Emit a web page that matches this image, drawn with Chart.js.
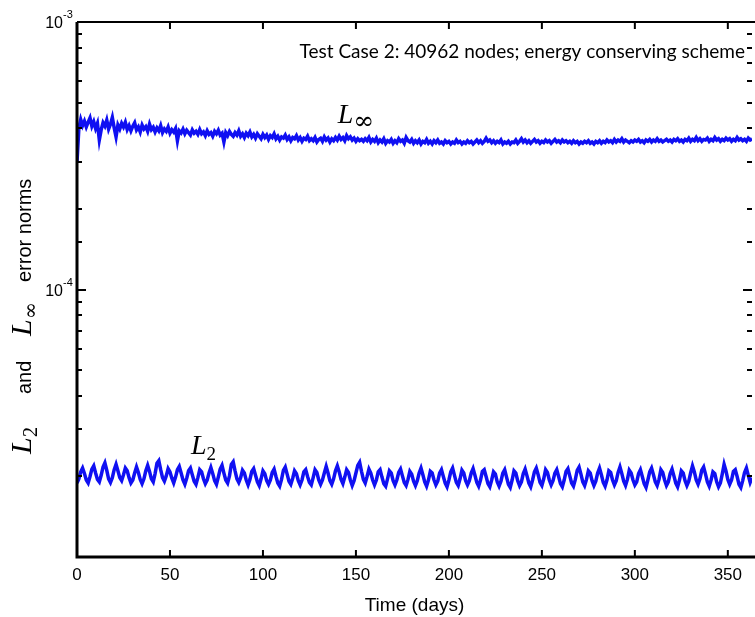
<!DOCTYPE html>
<html>
<head>
<meta charset="utf-8">
<script src="https://cdn.jsdelivr.net/npm/chart.js@4/dist/chart.umd.min.js"></script>
<style>
  html, body { margin: 0; padding: 0; background: #ffffff; }
  #wrap { width: 755px; height: 617px; }
</style>
</head>
<body>
<div id="wrap"><canvas id="errChart" width="755" height="617"></canvas></div>
<script>
// sampling days (one sample per day)
var days = Array.from({ length: 364 }, function (_, i) { return i; });

// L-infinity error norm, in units of 1e-4
var lInfScaled = [
  3.00, 4.00, 4.32, 4.10, 4.26, 4.05, 4.22, 4.38, 4.08, 4.24, 4.00, 4.18, 3.62, 3.95,
  4.20, 4.08, 4.30, 3.98, 4.15, 4.40, 4.02, 3.72, 4.12, 3.98, 4.18, 4.05, 4.22, 3.96,
  4.10, 3.92, 4.08, 4.20, 3.95, 4.05, 3.88, 4.12, 3.98, 4.06, 3.90, 4.15, 3.96, 4.04,
  3.88, 4.02, 3.92, 4.10, 3.86, 3.98, 3.90, 4.05, 3.84, 3.96, 3.88, 4.00, 3.60, 3.92,
  3.85, 3.98, 3.82, 3.94, 3.86, 3.78, 3.95, 3.84, 3.90, 3.80, 3.96, 3.82, 3.88, 3.76,
  3.92, 3.80, 3.86, 3.74, 3.90, 3.82, 3.94, 3.78, 3.84, 3.56, 3.86, 3.76, 3.90, 3.80,
  3.74, 3.86, 3.78, 3.92, 3.74, 3.82, 3.70, 3.84, 3.76, 3.88, 3.72, 3.80, 3.68, 3.82,
  3.74, 3.66, 3.80, 3.70, 3.78, 3.64, 3.76, 3.70, 3.82, 3.66, 3.74, 3.62, 3.72, 3.68,
  3.78, 3.64, 3.72, 3.60, 3.70, 3.66, 3.76, 3.62, 3.70, 3.58, 3.68, 3.64, 3.74, 3.60,
  3.66, 3.60, 3.70, 3.56, 3.64, 3.68, 3.58, 3.72, 3.62, 3.68, 3.56, 3.66, 3.60, 3.70,
  3.62, 3.74, 3.64, 3.70, 3.60, 3.76, 3.66, 3.72, 3.62, 3.68, 3.58, 3.66, 3.60, 3.64,
  3.58, 3.66, 3.60, 3.70, 3.56, 3.64, 3.58, 3.68, 3.54, 3.62, 3.56, 3.66, 3.52, 3.60,
  3.56, 3.64, 3.52, 3.60, 3.54, 3.66, 3.58, 3.62, 3.52, 3.70, 3.60, 3.56, 3.64, 3.52,
  3.60, 3.54, 3.62, 3.50, 3.58, 3.54, 3.64, 3.52, 3.58, 3.50, 3.60, 3.54, 3.62, 3.52,
  3.56, 3.50, 3.60, 3.54, 3.58, 3.50, 3.56, 3.52, 3.62, 3.54, 3.58, 3.50, 3.56, 3.52,
  3.60, 3.54, 3.58, 3.50, 3.56, 3.62, 3.54, 3.60, 3.52, 3.58, 3.68, 3.58, 3.62, 3.54,
  3.60, 3.52, 3.58, 3.54, 3.62, 3.50, 3.56, 3.52, 3.58, 3.50, 3.56, 3.54, 3.62, 3.52,
  3.58, 3.66, 3.56, 3.62, 3.54, 3.60, 3.52, 3.58, 3.64, 3.56, 3.60, 3.52, 3.58, 3.54,
  3.62, 3.56, 3.60, 3.52, 3.58, 3.64, 3.56, 3.60, 3.54, 3.62, 3.56, 3.60, 3.54, 3.58,
  3.52, 3.60, 3.54, 3.58, 3.50, 3.56, 3.52, 3.58, 3.54, 3.60, 3.52, 3.56, 3.50, 3.58,
  3.54, 3.60, 3.52, 3.58, 3.54, 3.62, 3.56, 3.60, 3.54, 3.64, 3.56, 3.62, 3.58, 3.66,
  3.56, 3.62, 3.58, 3.54, 3.60, 3.56, 3.62, 3.58, 3.64, 3.56, 3.60, 3.54, 3.62, 3.58,
  3.64, 3.56, 3.62, 3.58, 3.66, 3.58, 3.62, 3.56, 3.60, 3.64, 3.58, 3.62, 3.56, 3.64,
  3.60, 3.66, 3.58, 3.62, 3.56, 3.64, 3.60, 3.68, 3.58, 3.64, 3.60, 3.70, 3.60, 3.66,
  3.58, 3.64, 3.62, 3.68, 3.58, 3.64, 3.60, 3.70, 3.62, 3.66, 3.58, 3.64, 3.60, 3.68,
  3.62, 3.66, 3.58, 3.64, 3.60, 3.70, 3.62, 3.66, 3.60, 3.64, 3.58, 3.68, 3.62, 3.66
];

// L2 error norm, in units of 1e-5
var l2Scaled = [
  1.89, 1.96, 2.08, 2.15, 2.05, 1.94, 1.89, 2.00, 2.13, 2.19, 2.06, 1.95, 1.91, 2.02,
  2.17, 2.25, 2.11, 1.96, 1.90, 1.98, 2.12, 2.22, 2.10, 1.98, 1.93, 2.03, 2.15, 2.10,
  1.98, 1.89, 1.94, 2.06, 2.17, 2.07, 1.95, 1.88, 1.96, 2.10, 2.20, 2.09, 1.96, 1.91,
  2.05, 2.24, 2.29, 2.12, 1.98, 1.92, 2.01, 2.14, 2.08, 1.97, 1.89, 1.99, 2.12, 2.18,
  2.06, 1.94, 1.87, 1.97, 2.10, 2.15, 2.03, 1.92, 1.87, 1.98, 2.12, 2.08, 1.96, 1.88,
  1.94, 2.06, 2.16, 2.05, 1.93, 1.87, 1.99, 2.13, 2.20, 2.06, 1.94, 1.89, 2.01, 2.22,
  2.27, 2.10, 1.96, 1.90, 1.98, 2.11, 2.06, 1.94, 1.86, 1.95, 2.09, 2.14, 2.02, 1.91,
  1.85, 1.96, 2.10, 2.05, 1.93, 1.87, 1.94, 2.07, 2.13, 2.00, 1.89, 1.84, 1.95, 2.11,
  2.17, 2.04, 1.92, 1.87, 1.97, 2.10, 2.05, 1.93, 1.86, 1.94, 2.08, 2.12, 2.00, 1.90,
  1.86, 1.98, 2.12, 2.07, 1.94, 1.87, 1.94, 2.06, 2.18, 2.06, 1.93, 1.87, 1.96, 2.10,
  2.19, 2.08, 1.95, 1.88, 1.99, 2.12, 2.07, 1.94, 1.85, 1.93, 2.06, 2.20, 2.26, 2.09,
  1.95, 1.89, 2.00, 2.13, 2.06, 1.94, 1.86, 1.94, 2.08, 2.12, 1.99, 1.88, 1.84, 1.96,
  2.10, 2.06, 1.93, 1.86, 1.94, 2.07, 2.13, 2.01, 1.90, 1.85, 1.95, 2.09, 2.04, 1.92,
  1.85, 1.93, 2.06, 2.15, 2.03, 1.91, 1.84, 1.94, 2.09, 2.06, 1.94, 1.86, 1.92, 2.06,
  2.12, 2.00, 1.89, 1.83, 1.94, 2.08, 2.15, 2.02, 1.90, 1.85, 1.96, 2.11, 2.06, 1.93,
  1.86, 1.93, 2.06, 2.14, 2.02, 1.90, 1.84, 1.94, 2.09, 2.12, 2.00, 1.88, 1.83, 1.94,
  2.08, 2.04, 1.91, 1.84, 1.92, 2.06, 2.12, 1.99, 1.87, 1.82, 1.94, 2.10, 2.06, 1.93,
  1.85, 1.91, 2.05, 2.13, 2.01, 1.89, 1.83, 1.94, 2.08, 2.15, 2.03, 1.90, 1.85, 1.96,
  2.12, 2.07, 1.94, 1.86, 1.93, 2.06, 2.12, 2.00, 1.88, 1.83, 1.94, 2.09, 2.14, 2.01,
  1.89, 1.84, 1.95, 2.11, 2.17, 2.04, 1.91, 1.85, 1.95, 2.10, 2.06, 1.93, 1.85, 1.92,
  2.06, 2.15, 2.03, 1.90, 1.84, 1.94, 2.10, 2.07, 1.94, 1.86, 1.93, 2.07, 2.17, 2.05,
  1.92, 1.85, 1.95, 2.11, 2.06, 1.94, 1.86, 1.91, 2.05, 2.12, 2.00, 1.88, 1.82, 1.94,
  2.08, 2.15, 2.03, 1.91, 1.85, 1.95, 2.12, 2.07, 1.94, 1.85, 1.91, 2.05, 2.13, 2.01,
  1.89, 1.83, 1.94, 2.10, 2.06, 1.93, 1.85, 1.92, 2.06, 2.19, 2.08, 1.94, 1.87, 1.96,
  2.11, 2.17, 2.04, 1.91, 1.84, 1.94, 2.08, 2.05, 1.91, 1.83, 1.89, 2.04, 2.22, 2.10,
  1.95, 1.87, 1.94, 2.09, 2.12, 2.00, 1.87, 1.82, 1.93, 2.07, 2.15, 2.02, 1.90, 1.98
];

// axis ticks
var xTickValues = [0, 50, 100, 150, 200, 250, 300, 350];
var yLabelExponents = [-3, -4];

var lInf = lInfScaled.map(function (v) { return v * 1e-4; });
var l2 = l2Scaled.map(function (v) { return v * 1e-5; });

function toPoints(ys) {
    return days.map(function (d, i) { return { x: d, y: ys[i] }; });
}

var lineBlue = '#1010f2';
var sansFont = '"Liberation Sans", Arial, sans-serif';
var serifFont = '"Liberation Serif", "DejaVu Serif", serif';

// draw a row of text pieces with mixed fonts, centred on (0,0)
function drawPieces(ctx, pieces) {
    var total = 0;
    pieces.forEach(function (p) {
        ctx.font = p.font;
        p.w = ctx.measureText(p.t).width;
        total += p.w;
    });
    var x = -total / 2;
    ctx.textAlign = 'left';
    ctx.textBaseline = 'alphabetic';
    pieces.forEach(function (p) {
        ctx.font = p.font;
        ctx.fillText(p.t, x, p.dy || 0);
        x += p.w;
    });
}

var framePlugin = {
    id: 'frame',
    afterDraw: function (chart) {
        var ctx = chart.ctx;
        var area = chart.chartArea;
        var xs = chart.scales.x;
        var ys = chart.scales.y;
        ctx.save();
        ctx.strokeStyle = '#000';
        ctx.fillStyle = '#000';

        // box: thick left and bottom, thinner top
        ctx.lineWidth = 3;
        ctx.beginPath();
        ctx.moveTo(area.left, area.top);
        ctx.lineTo(area.left, area.bottom);
        ctx.lineTo(area.right + 3, area.bottom);
        ctx.stroke();
        ctx.lineWidth = 2;
        ctx.beginPath();
        ctx.moveTo(area.left, area.top);
        ctx.lineTo(area.right + 3, area.top);
        ctx.stroke();

        // x ticks, pointing inwards at bottom and top
        ctx.lineWidth = 2;
        xTickValues.forEach(function (v) {
            var px = xs.getPixelForValue(v);
            ctx.beginPath();
            ctx.moveTo(px, area.bottom);
            ctx.lineTo(px, area.bottom - 7);
            ctx.moveTo(px, area.top);
            ctx.lineTo(px, area.top + 7);
            ctx.stroke();
        });

        // y ticks from the log scale, major ones longer
        ys.ticks.forEach(function (t) {
            var lg = Math.log10(t.value);
            var major = Math.abs(lg - Math.round(lg)) < 1e-6;
            var py = Math.round(ys.getPixelForValue(t.value));
            var len = major ? 9 : 5;
            ctx.lineWidth = 2;
            ctx.beginPath();
            ctx.moveTo(area.left, py);
            ctx.lineTo(area.left + len, py);
            ctx.moveTo(area.right, py);
            ctx.lineTo(area.right - len, py);
            ctx.stroke();
        });

        // x tick labels
        ctx.font = '17px ' + sansFont;
        ctx.textAlign = 'center';
        ctx.textBaseline = 'middle';
        xTickValues.forEach(function (v) {
            ctx.fillText(String(v), xs.getPixelForValue(v), area.bottom + 18);
        });

        // y tick labels: 10 with superscript exponent
        yLabelExponents.forEach(function (e) {
            var py = ys.getPixelForValue(Math.pow(10, e));
            ctx.font = '16px ' + sansFont;
            ctx.textAlign = 'right';
            ctx.textBaseline = 'middle';
            ctx.fillText('10', area.left - 14, py + 2);
            ctx.font = '11px ' + sansFont;
            ctx.textAlign = 'left';
            ctx.fillText('-' + Math.abs(e), area.left - 14, py - 7);
        });

        // x axis title
        ctx.font = '19px ' + sansFont;
        ctx.textAlign = 'center';
        ctx.textBaseline = 'middle';
        ctx.fillText('Time (days)', (area.left + area.right) / 2, 606);

        // y axis title (rotated), pieces placed along the axis
        var titleBase = 31;
        [
            { t: 'L', font: 'italic 30px ' + serifFont, y: 454, dy: 0 },
            { t: '2', font: '20px ' + serifFont, y: 437, dy: 6 },
            { t: 'and', font: '20px ' + sansFont, y: 394, dy: 0 },
            { t: 'L', font: 'italic 30px ' + serifFont, y: 336, dy: 0 },
            { t: '\u221E', font: '20px "DejaVu Serif", serif', y: 319, dy: 6 },
            { t: 'error norms', font: '20px ' + sansFont, y: 282, dy: 0 }
        ].forEach(function (p) {
            ctx.save();
            ctx.translate(titleBase, p.y);
            ctx.rotate(-Math.PI / 2);
            ctx.font = p.font;
            ctx.textAlign = 'left';
            ctx.textBaseline = 'alphabetic';
            ctx.fillText(p.t, 0, p.dy);
            ctx.restore();
        });

        // case title, top right
        ctx.font = '19px Lato, "Open Sans", sans-serif';
        ctx.textAlign = 'right';
        ctx.textBaseline = 'middle';
        ctx.fillText('Test Case 2: 40962 nodes; energy conserving scheme', 745, 52);

        // series labels placed in data coordinates
        ctx.save();
        ctx.translate(xs.getPixelForValue(150), ys.getPixelForValue(4.2e-4));
        drawPieces(ctx, [
            { t: 'L', font: 'italic 28px ' + serifFont },
            { t: '\u221E', font: '25px "DejaVu Serif", serif', dy: 6 }
        ]);
        ctx.restore();
        ctx.save();
        ctx.translate(xs.getPixelForValue(68), ys.getPixelForValue(2.42e-5));
        drawPieces(ctx, [
            { t: 'L', font: 'italic 28px ' + serifFont },
            { t: '2', font: '19px ' + serifFont, dy: 6 }
        ]);
        ctx.restore();

        ctx.restore();
    }
};

document.addEventListener('DOMContentLoaded', function () {
    var ctx = document.getElementById('errChart').getContext('2d');
    new Chart(ctx, {
        type: 'line',
        data: {
            datasets: [{
                label: 'L_inf',
                data: toPoints(lInf),
                borderColor: lineBlue,
                borderWidth: 3.5,
                pointRadius: 0,
                tension: 0
            }, {
                label: 'L_2',
                data: toPoints(l2),
                borderColor: lineBlue,
                borderWidth: 3.5,
                pointRadius: 0,
                tension: 0
            }]
        },
        options: {
            responsive: false,
            animation: false,
            layout: { padding: { left: 0, right: 3, top: 22, bottom: 0 } },
            plugins: {
                legend: { display: false },
                tooltip: { enabled: false }
            },
            scales: {
                x: {
                    type: 'linear',
                    min: 0,
                    max: 363,
                    grid: { display: false },
                    border: { display: false },
                    ticks: { display: false },
                    afterFit: function (scale) { scale.height = 60; }
                },
                y: {
                    type: 'logarithmic',
                    min: 1e-5,
                    max: 1e-3,
                    grid: { display: false },
                    border: { display: false },
                    ticks: { display: false },
                    afterFit: function (scale) { scale.width = 77; }
                }
            }
        },
        plugins: [framePlugin]
    });
});
</script>
</body>
</html>
